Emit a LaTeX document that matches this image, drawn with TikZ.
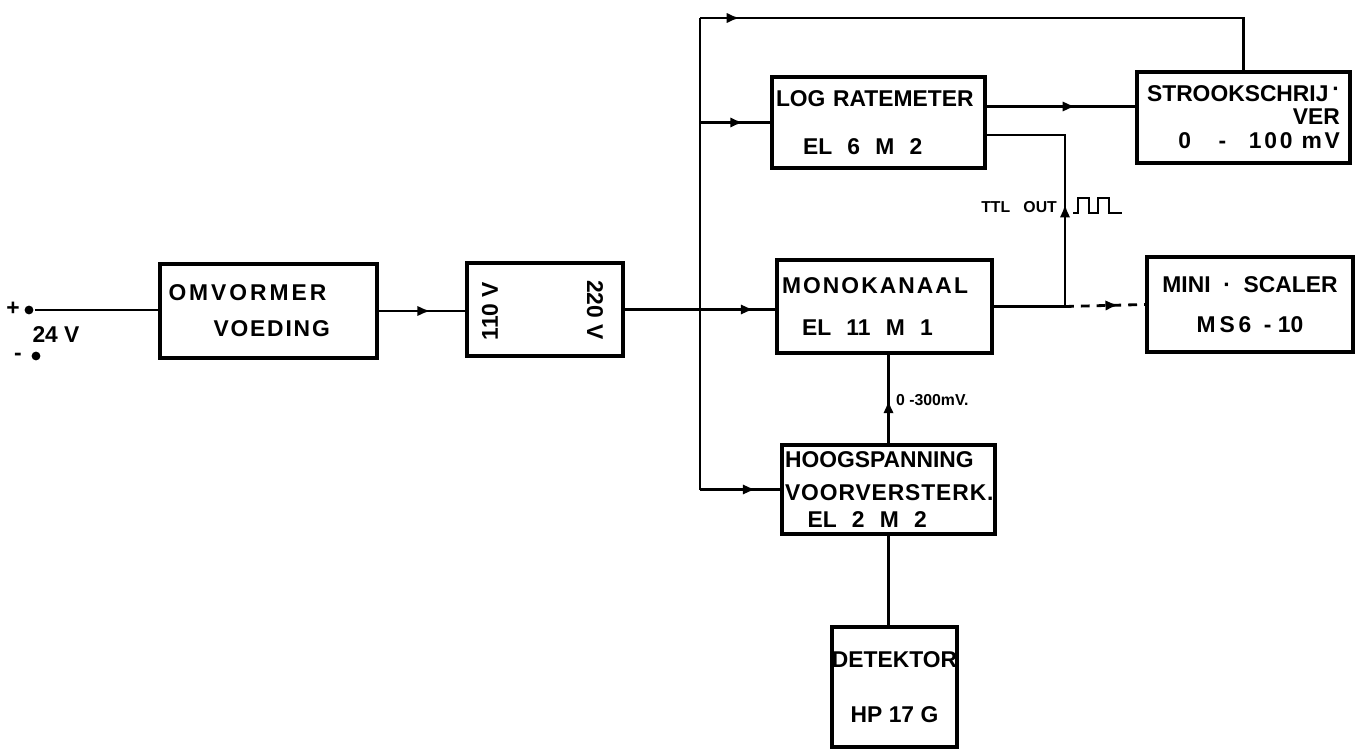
\documentclass[tikz,border=0pt]{standalone}
\usepackage{fontspec}
\setmainfont{Liberation Sans}
\usetikzlibrary{arrows.meta,decorations.markings,calc}
\tikzset{every picture/.style={line width=1.6pt}}
\newcommand{\spatie}[2]{{\addfontfeature{LetterSpace=#1}#2}}
\tikzset{
  tekst/.style={font=\fontsize{13}{15.6}\selectfont\bfseries},
  blok/.style={draw, tekst, line width=2.2pt, inner sep=1pt},
  klein/.style={font=\fontsize{9}{10}\selectfont\bfseries, inner sep=1pt},
  pijl/.style={postaction={decorate},
    decoration={markings, mark=at position #1 with {\arrow{Latex[length=7.5pt,width=6pt]}}}},
  klem/.style={circle, fill, inner sep=0pt, minimum size=5pt}
}

\begin{document}
\begin{tikzpicture}[x=0.02cm, y=-0.02cm]
    \useasboundingbox (0,0) rectangle (1357,750);
    % blokken
    \node[blok, minimum width=4.34cm, minimum height=1.88cm, text width=4cm, align=left] (omv) at (268.5,311) {\spatie{13}{OMVORMER}\\[5pt]\hspace*{0.9cm}\spatie{8}{VOEDING}};
    \node[blok, minimum width=3.12cm, minimum height=1.86cm] (spn) at (545,309.5) {};
    \node[tekst, rotate=90] (v110) at (490,311) {110 V};
    \node[tekst, rotate=-90] (v220) at (595,310) {220 V};
    \node[blok, minimum width=4.26cm, minimum height=1.82cm, text width=4.1cm, align=left] (log) at (878.5,122.5) {LOG RATEMETER\\[12pt]\hspace*{0.54cm}EL\ \ 6\ \ M\ \ 2};
    \node[blok, minimum width=4.26cm, minimum height=1.82cm, align=right] (stro) at (1243.5,117.5) {STROOKSCHRIJ\,\raisebox{3pt}{·}\\[-3pt]VER\\[-1.5pt]0\hspace{1.2em}-\hspace{1em}\spatie{12}{100\ mV}};
    \node[blok, minimum width=4.3cm, minimum height=1.86cm, text width=4.1cm, align=left] (mono) at (884.5,306.5) {\spatie{9}{MONOKANAAL}\\[8pt]\hspace*{0.4cm}EL\ \ 11\ \ M\ \ 1};
    \node[blok, minimum width=4.12cm, minimum height=1.9cm, align=center] (mini) at (1250,304.5) {MINI\ \ ·\ \ SCALER\\[7pt]M\,S\,6\ \ -\ 10};
    \node[blok, minimum width=4.26cm, minimum height=1.78cm, text width=4.14cm, align=left] (hoog) at (888.5,489.5) {HOOGSPANNING\\[3pt]\spatie{4}{VOORVERSTERK.}\\\hspace*{0.45cm}EL\ \ 2\ \ M\ \ 2};
    \node[blok, inner sep=0pt, minimum width=2.5cm, minimum height=2.4cm, align=center] (det) at (894.5,687) {DETEKTOR\\[16pt]HP\ 17\ G};
    % voeding 24 V
    \node[klem] (plus) at (29,310) {};
    \node[klem] (min) at (36,356) {};
    \node[tekst] (plusteken) at (13,309) {+};
    \node[tekst] (minteken) at (18,357) {-};
    \node[tekst] (spanning) at (56,335) {24 V};
    \draw (plus) -- (plus -| omv.west);
    \draw[pijl=0.6] (omv.east) -- (omv.east -| spn.west);
    \draw[pijl=0.86] (spn.east) -- (spn.east -| mono.west);
    % verdeellijn
    \coordinate (boven) at (700,18);
    \draw (boven) -- (boven |- hoog.west);
    \draw[pijl=0.067] (boven) -| (stro.north);
    \draw[pijl=0.62] (boven |- log.west) -- (log.west);
    \draw[pijl=0.7] (boven |- hoog.west) -- (hoog.west);
    % uitgangen
    \coordinate (logA) at ($(log.east)+(0,-16)$);
    \coordinate (logB) at ($(log.east)+(0,12.5)$);
    \coordinate (ttl) at (1065,306.5);
    \draw[pijl=0.6] (logA) -- (logA -| stro.west);
    \draw (mono.east) -- (ttl);
    \draw[pijl=0.41] (ttl) |- (logB);
    \draw[dashed, dash pattern=on 5pt off 4pt, pijl=0.67] (ttl) -- (mini.west);
    \node[klein, anchor=east] (ttltxt) at (1060,207) {TTL\ \ \ OUT};
    \draw[line width=1.4pt] (1073,213) -- (1078,213) -- (1078,198) -- (1089,198) -- (1089,213)
        -- (1098,213) -- (1098,198) -- (1109,198) -- (1109,213) -- (1122,213);
    \draw[pijl=0.49] (hoog.north) -- (hoog.north |- mono.south);
    \node[klein, anchor=west] (mv) at (893,400) {0 -300mV.};
    \draw (hoog.south) -- (hoog.south |- det.north);
\end{tikzpicture}
\end{document}
